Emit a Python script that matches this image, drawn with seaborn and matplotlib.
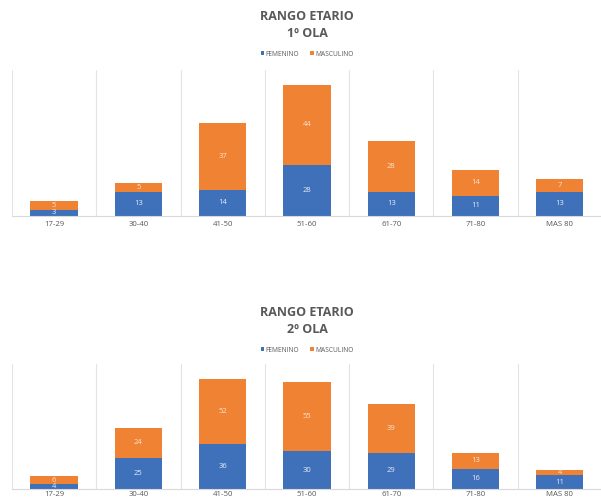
import matplotlib
matplotlib.use("Agg")
import matplotlib.pyplot as plt
import seaborn as sns
import pandas as pd
from matplotlib.patches import Patch
from matplotlib.ticker import FixedLocator

# Age groups and counts per wave
categories = ["17-29", "30-40", "41-50", "51-60", "61-70", "71-80", "MAS 80"]
fem_ola1 = [3, 13, 14, 28, 13, 11, 13]
mas_ola1 = [5, 5, 37, 44, 28, 14, 7]
fem_ola2 = [4, 25, 36, 30, 29, 16, 11]
mas_ola2 = [6, 24, 52, 55, 39, 13, 4]
series_names = ["FEMENINO", "MASCULINO"]
title_top = "RANGO ETARIO"
wave_titles = ["1º OLA", "2º OLA"]

BLUE = "#3F70BA"
ORANGE = "#F08233"
GRID = "#E3E3E3"
TEXT = "#595959"

sns.set_theme(style="white")
plt.rcParams["font.family"] = ["Open Sans", "DejaVu Sans"]

W, H = 601, 499
fig = plt.figure(figsize=(W / 100, H / 100), dpi=100)


def px_axes(left, top, right, bottom):
    return fig.add_axes([left / W, 1 - bottom / H, (right - left) / W, (bottom - top) / H])


def draw_panel(ax, fem, mas, ymax, label_pad):
    df = pd.DataFrame({"rango": categories, "fem": fem, "mas": mas})
    df["total"] = df["fem"] + df["mas"]
    # stacked: total in orange underneath, female share in blue on top
    sns.barplot(data=df, x="rango", y="total", color=ORANGE, saturation=1,
                width=0.56, ax=ax, edgecolor="none")
    sns.barplot(data=df, x="rango", y="fem", color=BLUE, saturation=1,
                width=0.56, ax=ax, edgecolor="none")
    for i, (f, m) in enumerate(zip(df["fem"], df["mas"])):
        ax.text(i, f / 2, str(f), ha="center", va="center", color="#E8EEF8",
                fontsize=5.5)
        ax.text(i, f + m / 2, str(m), ha="center", va="center", color="#FBE3D2",
                fontsize=5.5)
    ax.set_xlim(-0.5, len(categories) - 0.5)
    ax.set_ylim(0, ymax)
    ax.set_xlabel("")
    ax.set_ylabel("")
    ax.set_yticks([])
    ax.xaxis.set_minor_locator(FixedLocator([i - 0.5 for i in range(len(categories) + 1)]))
    ax.grid(False)
    ax.grid(which="minor", axis="x", color=GRID, linewidth=0.8)
    ax.set_axisbelow(True)
    ax.tick_params(axis="x", which="both", length=0, pad=label_pad, labelsize=5.6,
                   labelcolor=TEXT)
    for side in ["top", "left", "right"]:
        ax.spines[side].set_visible(False)
    ax.spines["bottom"].set_color("#D9D9D9")
    ax.spines["bottom"].set_linewidth(0.8)


ax1 = px_axes(11.9, 70, 602, 215.7)
draw_panel(ax1, fem_ola1, mas_ola1, 80, 4)
ax2 = px_axes(11.9, 363.5, 602, 489)
draw_panel(ax2, fem_ola2, mas_ola2, 100, 1.5)

handles = [Patch(facecolor=BLUE, edgecolor="none"), Patch(facecolor=ORANGE, edgecolor="none")]
cx = 307 / W
for (y1, y2, yl), wave in zip([(17, 33.5, 54), (313, 329.5, 350)], wave_titles):
    fig.text(cx, 1 - y1 / H, title_top, ha="center", va="center", fontsize=9,
             fontweight="bold", color=TEXT)
    fig.text(cx, 1 - y2 / H, wave, ha="center", va="center", fontsize=9,
             fontweight="bold", color=TEXT)
    fig.legend(handles, series_names, loc="center", bbox_to_anchor=(cx, 1 - yl / H),
               ncol=2, frameon=False, fontsize=4.8, handlelength=0.55, handleheight=0.55,
               handletextpad=0.2, columnspacing=1.6, labelcolor=TEXT)

fig.savefig("out.png", dpi=100, facecolor="white")
